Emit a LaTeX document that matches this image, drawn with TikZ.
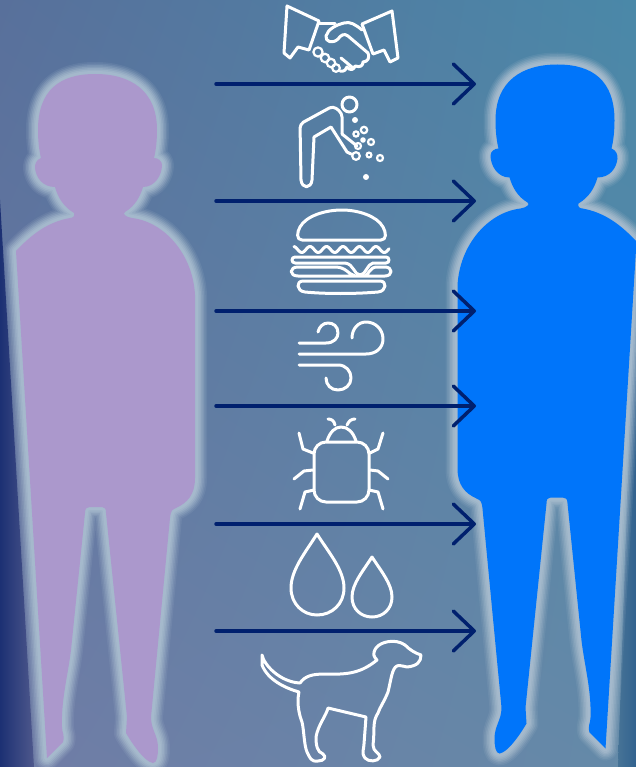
\documentclass[tikz,border=0pt]{standalone}
\usepackage{tikz}
\usetikzlibrary{arrows.meta, shadings}
\definecolor{arrowblue}{RGB}{0, 32, 110}
\definecolor{lilacfill}{RGB}{171, 152, 204}
\definecolor{brightblue}{RGB}{0, 117, 250}
\definecolor{glowgray}{RGB}{170, 190, 208}
\definecolor{bgtopleft}{RGB}{88, 112, 155}
\definecolor{bgtopright}{RGB}{74, 136, 168}
\definecolor{bgbotleft}{RGB}{112, 124, 166}
\definecolor{bgbotright}{RGB}{100, 138, 168}
\definecolor{stripleft}{RGB}{28, 48, 115}
\definecolor{stripmid}{RGB}{78, 88, 140}
\definecolor{stripright}{RGB}{50, 98, 143}
\definecolor{stripinner}{RGB}{70, 115, 150}
\newcommand{\personpath}{(95,74) .. controls (60,74) and (38,90) .. (38,130)
  .. controls (38,140) and (39,150) .. (41,158)
  .. controls (36,160) and (35,164) .. (35,168)
  .. controls (36,178) and (43,187) .. (55,187)
  .. controls (58,198) and (64,207) .. (74,213)
  .. controls (75,216) and (73,218) .. (70,218)
  .. controls (48,222) and (32,234) .. (16,251)
  -- (47,758) -- (63,742)
  .. controls (65,735) and (62,733) .. (62,727)
  .. controls (61,700) and (68,675) .. (71,650)
  -- (85,513) .. controls (85,508) and (87,507) .. (90,507)
  -- (102,507) .. controls (105,507) and (106,509) .. (106,513)
  -- (127,717) -- (126,733)
  .. controls (133,745) and (145,762) .. (153,763)
  .. controls (157,763) and (158,755) .. (158,748)
  .. controls (158,735) and (151,730) .. (151,717)
  -- (170,518) .. controls (171,510) and (172,510) .. (176,508)
  .. controls (187,503) and (195,495) .. (195,478)
  -- (195,295) .. controls (193,255) and (165,222) .. (132,218)
  .. controls (126,217) and (122,214) .. (125,212)
  .. controls (135,206) and (140,197) .. (143,187)
  .. controls (155,187) and (162,175) .. (162,165)
  .. controls (162,161) and (158,158) .. (154,158)
  .. controls (156,150) and (157,140) .. (157,130)
  .. controls (157,90) and (130,74) .. (95,74) -- cycle}
\newcommand{\personshape}[1]{%
  \foreach \w/\o in {24/0.12, 21/0.16, 18/0.22, 15/0.28, 12/0.36, 9/0.45, 6/0.55}
    \draw[glowgray, line width=\w pt, opacity=\o, line join=round] \personpath;
  \fill[#1] \personpath;}
\tikzset{
  icon/.style={draw=white, line width=3pt, line cap=round, line join=round},
  ringdot/.style={draw=white, line width=2.2pt},
  flowarrow/.style={arrowblue, line width=3.5pt, line cap=round, -{Straight Barb[length=21pt, width=40pt, line width=3.5pt, round]}}
}
\begin{document}
\begin{tikzpicture}[x=1pt, y=-1pt]
  \useasboundingbox (0,0) rectangle (636,767);
  % Background
  \shade[upper left=bgtopleft, upper right=bgtopright, lower left=bgbotleft, lower right=bgbotright] (0,0) rectangle (636,767);
  \shade[left color=stripleft, right color=stripmid] (0,200) -- (34,767) -- (0,767) -- cycle;
  \shade[left color=stripinner, right color=stripright] (636,230) -- (636,767) -- (618,767) -- cycle;

  % Left figure
  \personshape{lilacfill}
  % Right figure
  \begin{scope}[shift={(652.5,-9.5)}, xscale=-1]
    \personshape{brightblue}
  \end{scope}

  % Handshake
  \draw[icon] (287,6) -- (319,21) -- (309,50) -- (298,47) -- (290,58) -- (284,53) -- cycle;
  \draw[icon] (392,11) -- (362,24) -- (373,54) -- (384,50) -- (390,62) -- (398,58) -- cycle;
  \draw[icon] (319,24) -- (335,24);
  \draw[icon] (362,30) .. controls (356,25) and (350,21) .. (344,23) .. controls (336,25) and (328,29) .. (326,36) .. controls (325,42) and (333,44) .. (338,39) .. controls (341,35) and (344,33) .. (348,36) -- (368,53);
  \draw[ringdot] (318,52) circle (4.6) (325,58) circle (4.2) (331,63) circle (4.2) (336,68) circle (3.8);
  \draw[icon] (341,58) -- (353,68);
  \draw[icon] (340,71) .. controls (345,72) and (346,69) .. (347,67) .. controls (350,71) and (354,70) .. (355,66) .. controls (361,68) and (363,65) .. (363,62) .. controls (368,62) and (370,57) .. (368,53);

  % Person spilling
  \draw[icon, rounded corners=4pt] (342,134) -- (342,113) -- (333,106) -- (300,124) -- (301,180);
  \draw[icon] (301,180) .. controls (302,189) and (311,189) .. (312,180) -- (314,137)
    -- (331,127) -- (347,152) -- (351,154);
  \draw[icon] (342,134) -- (357,146);
  \draw[icon] (349.5,104.5) circle (7.5);
  \fill[white] (355,120) circle (3) (366,177) circle (3) (363,140) circle (2.8);
  \draw[ringdot] (364,130) circle (3.2) (356,134) circle (2.6) (371,142) circle (3) (358,146) circle (3) (356,156) circle (3.8) (369,155) circle (2.4) (380,158) circle (3);

  % Burger
  \draw[icon] (302,240) .. controls (296,240) and (297,232) .. (300,227) .. controls (306,216) and (325,210) .. (342,210) .. controls (358,210) and (377,216) .. (383,227) .. controls (386,232) and (387,240) .. (381,240) -- cycle;
  \draw[icon] plot[domain=294:389, samples=90] (\x,{249.5-3*cos((\x-310)/16.5*360)});
  \draw[icon] (295,257) -- (386,257) .. controls (390,257) and (390,263) .. (386,263) -- (373,263)
    .. controls (367,264) and (366,275) .. (360,275) .. controls (354,275) and (354,264) .. (345,263)
    -- (295,263) .. controls (291,263) and (291,257) .. (295,257) -- cycle;
  \draw[icon] (355,276) .. controls (348,274) and (346,267) .. (335,267) -- (298,267) .. controls (289,267) and (289,276) .. (298,276) -- (385,276) .. controls (393,276) and (393,267) .. (385,267) -- (377,267) .. controls (370,267) and (369,274) .. (365,276);
  \draw[icon] (303,281) -- (380,281) .. controls (387,281) and (387,291) .. (378,292) .. controls (355,294) and (325,294) .. (305,292) .. controls (296,291) and (296,281) .. (303,281) -- cycle;

  % Wind
  \draw[icon] (299,343) -- (326,343) .. controls (334,343) and (338,338) .. (338,333) .. controls (338,326) and (333,323) .. (328,323) .. controls (323,323) and (319,327) .. (318,332);
  \draw[icon] (299,354) -- (366,354) .. controls (376,354) and (383,348) .. (383,339) .. controls (383,329) and (375,322) .. (366,322) .. controls (358,322) and (352,329) .. (352,338);
  \draw[icon] (299,365) -- (338,365) .. controls (346,365) and (351,371) .. (351,378) .. controls (351,385) and (345,390) .. (338,390) .. controls (331,390) and (326,385) .. (326,378);

  % Bug
  \draw[icon, rounded corners=12pt] (314,442) rectangle (369,502);
  \draw[icon] (327,441) .. controls (330,432) and (335,427) .. (341,427) .. controls (348,427) and (353,432) .. (356,441);
  \draw[icon] (328,419) .. controls (332,419) and (334,421) .. (335,425);
  \draw[icon] (355,419) .. controls (351,419) and (349,421) .. (347,425);
  \draw[icon] (299,433) -- (303,449) -- (313,453);
  \draw[icon] (383,433) -- (378,449) -- (370,453);
  \draw[icon] (294,479) -- (304,471) -- (313,470);
  \draw[icon] (388,479) -- (378,471) -- (370,470);
  \draw[icon] (300,509) -- (305,492) -- (314,490);
  \draw[icon] (383,509) -- (378,492) -- (369,490);

  % Drops
  \draw[icon] (317,534) .. controls (305,553) and (291,570) .. (291,588) .. controls (291,604) and (303,615) .. (317,615) .. controls (332,615) and (344,604) .. (344,588) .. controls (344,570) and (329,553) .. (317,534) -- cycle;
  \draw[icon] (372,557) .. controls (363,571) and (352,584) .. (352,597) .. controls (352,609) and (361,617) .. (372,617) .. controls (383,617) and (392,609) .. (392,597) .. controls (392,584) and (381,571) .. (372,557) -- cycle;

  % Dog
  \draw[icon] (262,655) .. controls (264,665) and (280,682) .. (300,683) .. controls (305,676) and (312,674) .. (325,674) .. controls (350,675) and (362,672) .. (377,660)
    .. controls (374,657) and (372,654) .. (376,648) .. controls (380,642) and (395,638) .. (405,645)
    .. controls (410,650) and (415,653) .. (421,655) .. controls (421,662) and (417,666) .. (407,667)
    .. controls (403,666) and (398,665) .. (397,666) .. controls (392,668) and (391,680) .. (388,692)
    .. controls (384,702) and (380,707) .. (378,713) .. controls (372,722) and (375,730) .. (373,745)
    .. controls (373,752) and (380,753) .. (380,757) .. controls (378,762) and (368,762) .. (365,758)
    .. controls (361,752) and (364,750) .. (364,744) -- (366,717) -- (328,708)
    .. controls (326,716) and (318,725) .. (316,737) .. controls (316,745) and (317,752) .. (323,754)
    .. controls (327,757) and (324,761) .. (318,761) .. controls (311,762) and (310,758) .. (307,752)
    .. controls (304,745) and (304,730) .. (302,722) .. controls (298,712) and (297,700) .. (299,692)
    .. controls (285,688) and (268,680) .. (262,665) -- cycle;

  % Arrows
  \foreach \y [count=\i] in {84, 201, 311, 406, 524, 631} {
    \coordinate (start\i) at (216,\y);
    \coordinate (end\i) at (476,\y);
    \draw[flowarrow] (start\i) -- (end\i);
  }
\end{tikzpicture}
\end{document}
